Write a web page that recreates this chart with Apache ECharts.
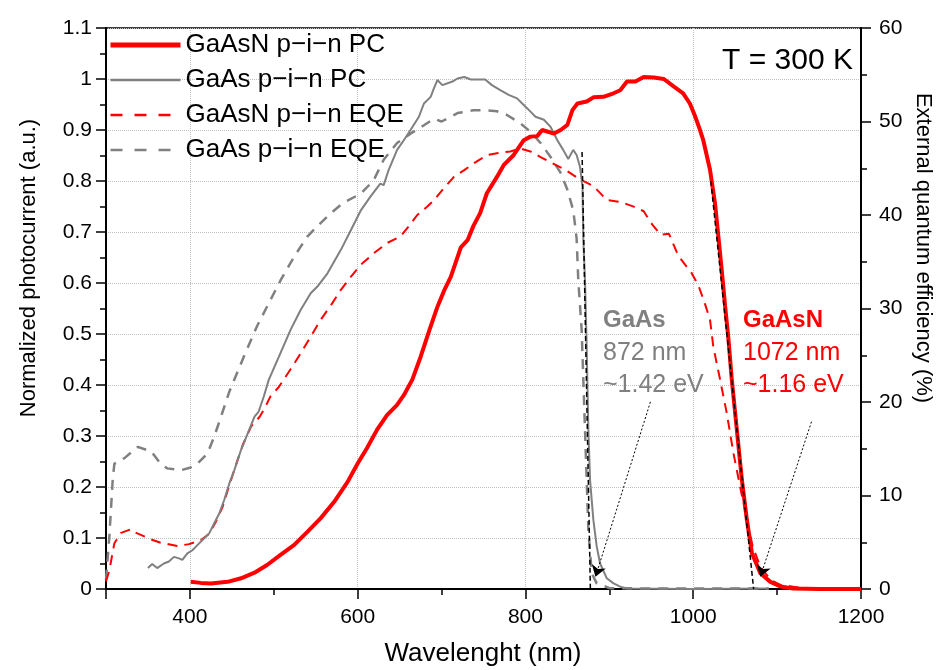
<!DOCTYPE html>
<html>
<head>
<meta charset="utf-8">
<script src="https://cdn.jsdelivr.net/npm/echarts@6/dist/echarts.min.js"></script>
<style>html,body{margin:0;padding:0;background:#fff;}#c{width:940px;height:670px;}</style>
</head>
<body>
<div id="c"></div>
<script>
// ---- Data (wavelength nm, value) ----
// Photocurrent, normalized (left axis)
var gaasnPC = [[401,0.014],[413,0.012],[425,0.011],[445,0.014],[461,0.021],[477,0.032],[492,0.047],[508,0.067],[524,0.086],[540,0.112],[556,0.139],[572,0.171],[588,0.210],[600,0.246],[611,0.276],[623,0.312],[635,0.341],[647,0.361],[655,0.380],[665,0.410],[675,0.455],[685,0.505],[695,0.553],[703,0.585],[711,0.612],[723,0.670],[731,0.684],[738,0.712],[746,0.737],[754,0.776],[766,0.808],[774,0.831],[786,0.851],[798,0.880],[806,0.887],[814,0.888],[820,0.900],[826,0.897],[834,0.893],[842,0.900],[850,0.910],[856,0.939],[862,0.952],[873,0.956],[881,0.964],[893,0.965],[905,0.972],[913,0.978],[921,0.995],[931,0.995],[941,1.004],[953,1.003],[965,1.000],[977,0.985],[988,0.972],[996,0.952],[1002,0.928],[1007,0.905],[1012,0.880],[1020,0.822],[1026,0.756],[1030,0.691],[1034,0.625],[1038,0.555],[1042,0.490],[1046,0.410],[1052,0.312],[1058,0.214],[1064,0.135],[1070,0.070],[1080,0.031],[1092,0.014],[1104,0.005],[1119,0.001],[1150,0.0],[1200,0.0]];
var gaasPC = [[350,0.041],[355,0.049],[361,0.041],[369,0.050],[375,0.054],[381,0.063],[387,0.060],[391,0.057],[397,0.070],[403,0.076],[409,0.086],[415,0.096],[423,0.109],[429,0.129],[435,0.148],[441,0.175],[447,0.207],[453,0.233],[461,0.273],[469,0.305],[477,0.338],[482,0.348],[488,0.377],[494,0.410],[506,0.455],[520,0.508],[532,0.547],[544,0.580],[552,0.593],[564,0.619],[580,0.665],[592,0.704],[604,0.743],[615,0.769],[627,0.795],[631,0.792],[637,0.822],[647,0.861],[655,0.880],[663,0.900],[673,0.926],[679,0.952],[687,0.965],[691,0.982],[695,0.998],[701,0.988],[713,0.995],[719,1.001],[727,1.004],[735,0.999],[752,0.999],[760,0.988],[770,0.978],[780,0.969],[790,0.962],[798,0.949],[806,0.936],[812,0.926],[822,0.920],[830,0.906],[838,0.880],[845,0.861],[851,0.843],[857,0.861],[861,0.851],[865,0.828],[868,0.789],[869,0.684],[871,0.606],[873,0.475],[875,0.312],[877,0.214],[881,0.135],[885,0.083],[889,0.050],[897,0.021],[905,0.011],[913,0.0045],[921,0.001],[1000,0.0],[1090,0.001]];
// External quantum efficiency, % (right axis)
var gaasnEQE = [[300,0.8],[304,2.0],[310,4.9],[318,6.0],[330,6.4],[336,6.0],[354,5.3],[365,4.95],[385,4.6],[399,4.8],[413,5.2],[423,5.9],[431,7.2],[439,8.8],[447,11.1],[455,13.3],[463,15.4],[473,17.4],[483,18.4],[489,19.3],[496,20.6],[506,21.6],[520,23.5],[532,25.2],[544,27.0],[556,28.8],[570,30.6],[580,32.0],[592,33.4],[604,34.7],[619,35.9],[635,37.0],[651,37.7],[661,38.8],[671,40.0],[683,40.9],[691,41.6],[703,42.9],[715,44.1],[727,44.8],[738,45.5],[754,46.4],[766,46.6],[782,46.8],[794,47.1],[806,46.8],[818,46.2],[833,45.5],[848,44.8],[865,43.8],[881,43.1],[897,41.6],[913,41.4],[929,40.9],[941,40.4],[951,39.0],[961,37.9],[971,38.0],[980,36.1],[986,35.2],[998,33.8],[1006,32.5],[1014,30.5],[1020,28.8],[1024,25.9],[1032,22.4],[1040,18.8],[1048,14.5],[1056,10.9],[1064,7.4],[1071,4.5],[1080,2.4],[1092,1.0],[1104,0.43],[1119,0.25],[1130,0.1]];
var gaasEQE = [[300,1.0],[304,5.6],[308,11.7],[310,13.4],[322,14.0],[338,15.2],[354,14.7],[365,13.4],[373,12.9],[389,12.7],[401,13.0],[409,13.4],[421,14.5],[429,16.3],[437,18.4],[447,21.1],[465,25.0],[480,28.1],[496,30.9],[508,33.0],[524,35.5],[540,37.7],[552,38.8],[568,40.2],[583,41.3],[604,42.3],[619,43.7],[631,45.9],[647,47.7],[663,48.7],[679,49.6],[691,50.3],[700,50.0],[711,50.5],[719,50.9],[738,51.2],[754,51.2],[766,51.1],[778,50.7],[794,49.8],[806,48.9],[818,47.7],[830,46.2],[842,44.5],[850,42.7],[857,40.5],[861,37.5],[863,33.0],[867,27.7],[869,22.4],[871,17.0],[873,11.7],[875,6.3],[879,1.7],[885,0.6],[901,0.07],[1090,0.05]];
// Band-edge tangent lines and arrows (annotation, left-axis units)
var gaasTangent = [[867.5,0.857],[877.4,0.0]];
var gaasnTangent = [[1021,0.80],[1072,0.0]];
var gaasArrow = [[949,0.367],[883.5,0.024]];
var gaasnArrow = [[1141,0.328],[1080,0.024]];
// Axis ticks
var xLabelStep = 200;
var names = ['GaAsN p\u2212i\u2212n PC','GaAs p\u2212i\u2212n PC','GaAsN p\u2212i\u2212n EQE','GaAs p\u2212i\u2212n EQE'];

var FONT = "'Liberation Sans', Arial, sans-serif";
var RED = '#ff0000', GREY = '#808080';
var chart = echarts.init(document.getElementById('c'), null, {renderer:'canvas'});

var axisCommon = {
  axisLine:{show:true, onZero:false, lineStyle:{color:'#000', width:2}},
  axisTick:{show:true, length:10, lineStyle:{color:'#000', width:1.5}},
  minorTick:{show:true, splitNumber:2, length:6, lineStyle:{color:'#000', width:1.5}},
  axisLabel:{color:'#000', fontSize:21, fontFamily:FONT}
};

var option = {
  animation:false,
  backgroundColor:'#fff',
  grid:{left:106, right:79, top:28, bottom:81, show:true, borderColor:'#000', borderWidth:1.5, backgroundColor:'transparent'},
  legend:{
    data:[
      {name:names[0], lineStyle:{width:5, color:RED, type:'solid'}},
      {name:names[1], lineStyle:{width:2.5, color:GREY, type:'solid'}},
      {name:names[2], lineStyle:{width:2.5, color:RED, type:[12,12]}},
      {name:names[3], lineStyle:{width:2.5, color:GREY, type:[12,12]}}
    ],
    orient:'vertical', left:108, top:30, padding:0, itemWidth:70, itemHeight:14, itemGap:5,
    itemStyle:{opacity:0},
    textStyle:{fontSize:26, fontFamily:FONT, color:'#000', lineHeight:30}
  },
  xAxis:[Object.assign({}, axisCommon, {
    type:'value', min:300, max:1200, splitNumber:5, minInterval:200, maxInterval:200,
    axisLabel:Object.assign({}, axisCommon.axisLabel, {margin:18, formatter:function(v){return v % xLabelStep === 0 ? String(v) : '';}}),
    splitLine:{show:true, lineStyle:{type:'dotted', color:'#c0c0c0', width:1}}
  })],
  yAxis:[Object.assign({}, axisCommon, {
    type:'value', min:0, max:1.1, interval:0.1, position:'left',
    axisLabel:Object.assign({}, axisCommon.axisLabel, {margin:14}),
    splitLine:{show:true, lineStyle:{type:'dotted', color:'#c0c0c0', width:1}}
  }), Object.assign({}, axisCommon, {
    type:'value', min:0, max:60, interval:10, position:'right',
    axisLabel:Object.assign({}, axisCommon.axisLabel, {margin:18}),
    splitLine:{show:false}
  })],
  series:[
    {name:names[3], type:'line', yAxisIndex:1, data:gaasEQE, showSymbol:false, symbol:'none', lineStyle:{color:GREY, width:2.5, type:[10,8]}, itemStyle:{color:GREY}, z:2},
    {name:names[2], type:'line', yAxisIndex:1, data:gaasnEQE, showSymbol:false, symbol:'none', lineStyle:{color:RED, width:2, type:[10,7]}, itemStyle:{color:RED}, z:2},
    {name:names[1], type:'line', data:gaasPC, showSymbol:false, symbol:'none', lineStyle:{color:GREY, width:2}, itemStyle:{color:GREY}, z:3},
    {name:names[0], type:'line', data:gaasnPC, showSymbol:false, symbol:'none', lineStyle:{color:RED, width:4}, itemStyle:{color:RED}, z:4},
    {name:'tanGaAs', type:'line', data:gaasTangent, showSymbol:false, symbol:'none', lineStyle:{color:'#000', width:1.5, type:[5,3]}, z:5},
    {name:'tanGaAsN', type:'line', data:gaasnTangent, showSymbol:false, symbol:'none', lineStyle:{color:'#000', width:1.5, type:[5,3]}, z:5},
    {name:'arrows', type:'lines', coordinateSystem:'cartesian2d', symbol:['none','arrow'], symbolSize:11,
      lineStyle:{color:'#000', width:1, type:[2,2], opacity:1},
      data:[{coords:gaasArrow},{coords:gaasnArrow}], z:6}
  ],
  graphic:[
    {type:'text', x:853, y:61, style:{text:'T = 300 K', fontSize:30, fontFamily:FONT, fill:'#000', align:'right', verticalAlign:'middle'}, z:10},
    {type:'text', x:603, y:320, style:{text:'GaAs', fontSize:24, fontWeight:'bold', fontFamily:FONT, fill:GREY, align:'left', verticalAlign:'middle'}, z:10},
    {type:'text', x:603, y:353, style:{text:'872 nm', fontSize:25, fontFamily:FONT, fill:GREY, align:'left', verticalAlign:'middle'}, z:10},
    {type:'text', x:603, y:385, style:{text:'~1.42 eV', fontSize:25, fontFamily:FONT, fill:GREY, align:'left', verticalAlign:'middle'}, z:10},
    {type:'text', x:743, y:320, style:{text:'GaAsN', fontSize:24, fontWeight:'bold', fontFamily:FONT, fill:RED, align:'left', verticalAlign:'middle'}, z:10},
    {type:'text', x:743, y:353, style:{text:'1072 nm', fontSize:25, fontFamily:FONT, fill:RED, align:'left', verticalAlign:'middle'}, z:10},
    {type:'text', x:743, y:385, style:{text:'~1.16 eV', fontSize:25, fontFamily:FONT, fill:RED, align:'left', verticalAlign:'middle'}, z:10},
    {type:'text', x:483, y:654, style:{text:'Wavelenght (nm)', fontSize:26, fontFamily:FONT, fill:'#000', align:'center', verticalAlign:'middle'}, z:10},
    {type:'text', x:29, y:268, rotation:Math.PI/2, style:{text:'Normalized photocurrent (a.u.)', fontSize:22, fontFamily:FONT, fill:'#000', align:'center', verticalAlign:'middle'}, z:10},
    {type:'text', x:923, y:248, rotation:-Math.PI/2, style:{text:'External quantum efficiency (%)', fontSize:22, fontFamily:FONT, fill:'#000', align:'center', verticalAlign:'middle'}, z:10}
  ]
};
chart.setOption(option);
</script>
</body>
</html>
